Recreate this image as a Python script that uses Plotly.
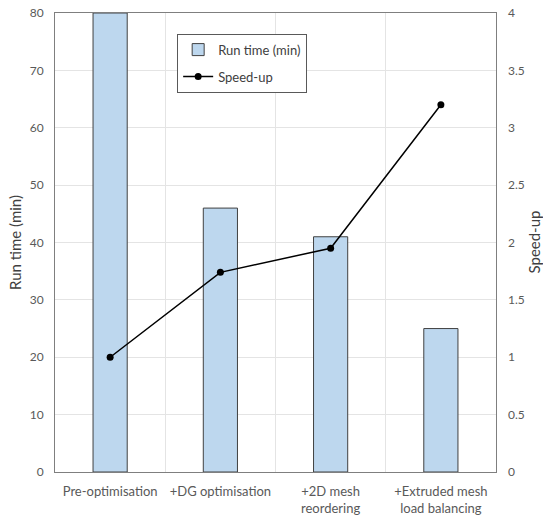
import plotly.graph_objects as go

categories = ["Pre-optimisation", "+DG optimisation", "+2D mesh<br>reordering", "+Extruded mesh<br>load balancing"]
run_time = [80, 46, 41, 25]
speed_up = [1.0, 1.74, 1.95, 3.2]

FONT = "Lato"
TICK = "#595959"
GRID = "#E4E4E4"
LINE = "#7F7F7F"

fig = go.Figure()
fig.add_trace(go.Bar(
    x=categories, y=run_time, name="Run time (min)",
    marker=dict(color="#BDD7EE", line=dict(color="#404040", width=1)),
    width=0.31, yaxis="y", legendgroup="a",
))
fig.add_trace(go.Scatter(
    x=categories, y=speed_up, name="Speed-up", mode="lines+markers",
    line=dict(color="black", width=1.5),
    marker=dict(color="black", size=7),
    yaxis="y2", legendgroup="b",
))

fig.update_layout(
    width=543, height=521,
    margin=dict(l=55, r=47, t=13, b=49, autoexpand=False),
    plot_bgcolor="white", paper_bgcolor="white",
    font=dict(family=FONT, size=13, color=TICK),
    showlegend=True,
    legend=dict(
        x=0.277, y=0.955, xanchor="left", yanchor="top",
        bordercolor="#595959", borderwidth=1, bgcolor="white",
        font=dict(family=FONT, size=13, color="#404040"),
        tracegroupgap=7, itemwidth=30,
    ),
    xaxis=dict(
        type="category", tickson="boundaries", showgrid=True, gridcolor=GRID,
        ticks="", showline=True, linecolor=LINE, linewidth=1, mirror=True,
        tickfont=dict(family=FONT, size=13, color=TICK), tickangle=0,
        range=[-0.5, 3.5], automargin=False, ticklabelstandoff=7,
    ),
    yaxis=dict(
        range=[0, 80], dtick=10, showgrid=True, gridcolor=GRID, zeroline=False,
        showline=True, linecolor=LINE, linewidth=1, mirror=True, ticks="",
        tickfont=dict(family=FONT, size=12, color=TICK), ticklabelstandoff=8,
        automargin=False,
        title=dict(text="Run time (min)", font=dict(family=FONT, size=15, color="#404040"), standoff=4),
    ),
    yaxis2=dict(
        range=[0, 4], dtick=0.5, overlaying="y", side="right", showgrid=False,
        zeroline=False, ticks="", automargin=False,
        tickfont=dict(family=FONT, size=12, color=TICK), ticklabelstandoff=11,
    ),
    annotations=[dict(
        text="Speed-up", xref="paper", yref="paper", x=1, y=0.5,
        xanchor="center", yanchor="middle", xshift=37, textangle=-90,
        showarrow=False, font=dict(family=FONT, size=15, color="#404040"),
    )],
    bargap=0.69,
)

fig.write_html("out.html")
